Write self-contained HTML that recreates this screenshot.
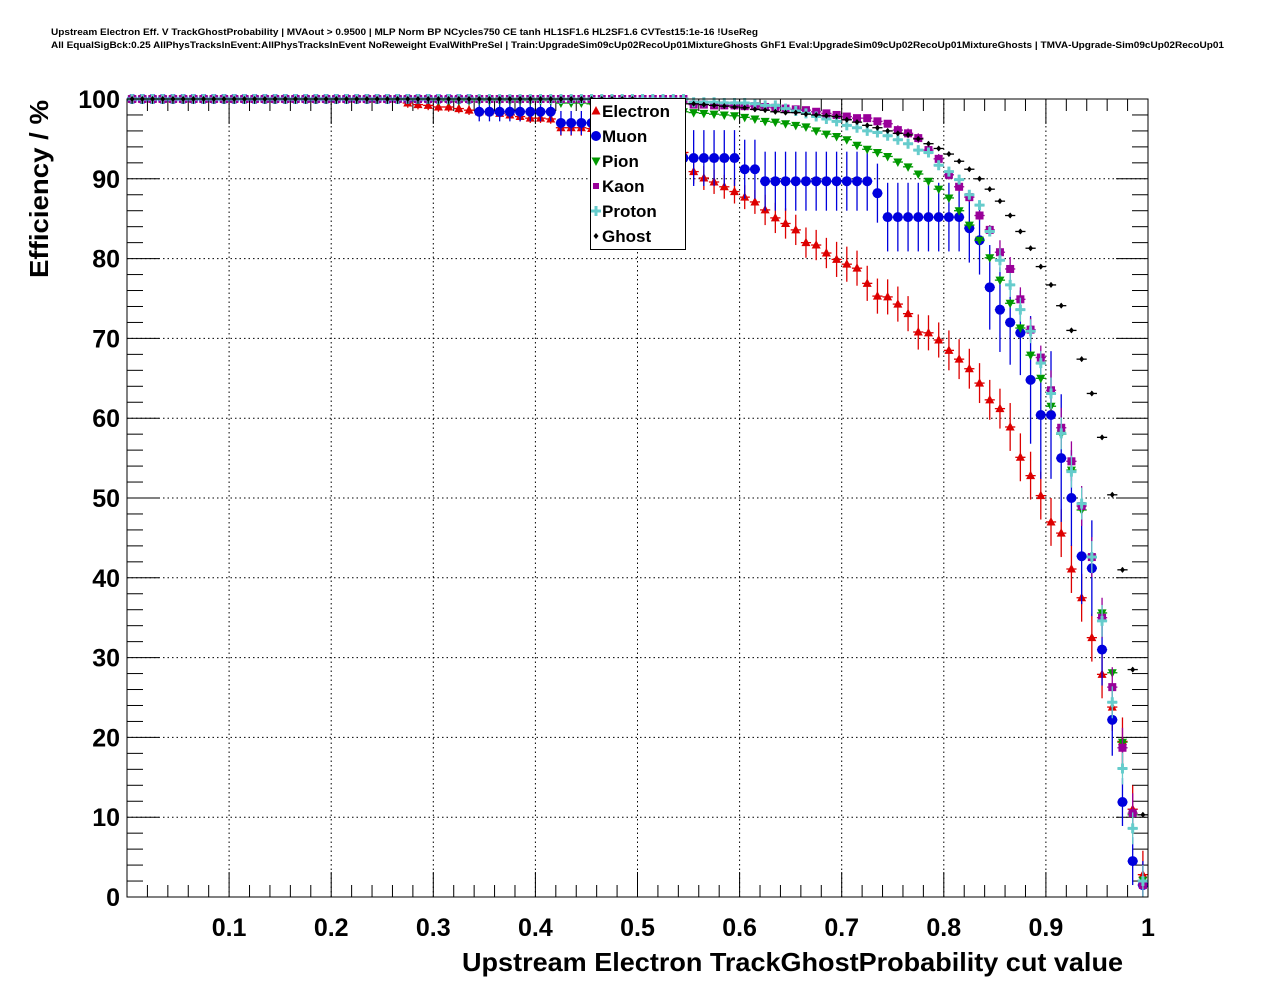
<!DOCTYPE html>
<html><head><meta charset="utf-8">
<style>
html,body{margin:0;padding:0;background:#fff;}
svg{display:block;font-family:"Liberation Sans",sans-serif;}
</style></head>
<body>
<svg id="chart" width="1276" height="996" viewBox="0 0 1276 996" xmlns="http://www.w3.org/2000/svg">
<rect x="0" y="0" width="1276" height="996" fill="#fff"/>
<text x="51" y="35" font-size="9" font-weight="bold" textLength="707" lengthAdjust="spacingAndGlyphs">Upstream Electron Eff. V TrackGhostProbability | MVAout &gt; 0.9500 | MLP Norm BP NCycles750 CE tanh HL1SF1.6 HL2SF1.6 CVTest15:1e-16 !UseReg</text>
<text x="51" y="48" font-size="9" font-weight="bold" textLength="1173" lengthAdjust="spacingAndGlyphs">All EqualSigBck:0.25 AllPhysTracksInEvent:AllPhysTracksInEvent NoReweight EvalWithPreSel | Train:UpgradeSim09cUp02RecoUp01MixtureGhosts GhF1 Eval:UpgradeSim09cUp02RecoUp01MixtureGhosts | TMVA-Upgrade-Sim09cUp02RecoUp01</text>
<g id="grid"></g>
<g id="axes"></g>
<g id="series"></g>
<rect x="127" y="99" width="1021" height="798" fill="none" stroke="#000" stroke-width="1"/>
<text x="1123" y="971" font-size="26" font-weight="bold" text-anchor="end" textLength="661" lengthAdjust="spacingAndGlyphs">Upstream Electron TrackGhostProbability cut value</text>
<text transform="translate(48,100) rotate(-90)" font-size="26" font-weight="bold" text-anchor="end" textLength="178" lengthAdjust="spacingAndGlyphs">Efficiency / %</text>
<g id="legend"></g>
</svg>
<script>
const NS="http://www.w3.org/2000/svg";
const xTicks=[0.1,0.2,0.3,0.4,0.5,0.6,0.7,0.8,0.9,1];
const xTickLabels=["0.1","0.2","0.3","0.4","0.5","0.6","0.7","0.8","0.9","1"];
const yTicks=[0,10,20,30,40,50,60,70,80,90,100];
const yTickLabels=["0","10","20","30","40","50","60","70","80","90","100"];
const seriesNames=["Electron","Muon","Pion","Kaon","Proton","Ghost"];
const F=(v,n)=>Array(n).fill(v);
const electron=[].concat(F(100,27),[99.5,99.3,99.2,99.0,99.0,98.8,98.6,98.4,98.4,98.2,98.0,97.8,97.6,97.6,97.5,
96.4,96.4,96.4,96.3,96.2,96.0,95.8,95.5,95.2,94.8,94.5,94.0,93.3,
90.9,90.1,89.6,89.0,88.4,87.7,87.1,86.1,85.1,84.4,83.6,82.0,81.7,80.7,79.9,79.3,78.8,76.9,75.3,75.2,
74.3,73.1,70.8,70.7,69.8,68.5,67.4,66.2,64.4,62.3,61.2,58.9,55.1,52.8,50.3,47.0,45.6,41.1,37.5,32.5,
27.9,23.8,19.5,11.0,2.8]);
const muon=[].concat(F(100,34),F(98.4,8),F(97.0,6),[97.0,96.0,95.0,94.0,93.5,93.0,92.6],F(92.6,5),F(91.2,2),F(89.7,11),[88.2],F(85.2,8),
[83.8,82.3,76.4,73.6,72.0,70.7,64.8,60.4,60.4,55.0,50.0,42.7,41.2,31.0,22.2,11.9,4.5,1.5]);
const pion=[].concat(F(100,30),F(99.8,12),F(99.5,3),[99.4,99.3,99.2,99.1,99.0,98.9,98.8,98.7,98.6,98.4,
98.3,98.2,98.1,98.0,97.9,97.7,97.5,97.2,97.1,96.9,96.7,96.5,96.0,95.6,95.3,
94.9,94.2,93.7,93.3,92.8,92.1,91.5,90.6,89.7,88.7,87.6,86.0,84.2,82.3,80.1,77.3,74.4,71.3,67.9,65.0,
61.5,58.0,53.5,48.5,42.5,35.6,28.1,19.4,10.3,2.1]);
const kaon=[].concat(F(100,55),[99.3,99.3,99.2,99.2,99.2,99.1,99.1,99.0,98.9,
98.8,98.7,98.6,98.4,98.2,98.0,97.8,97.6,97.6,97.2,96.9,96.1,95.7,95.1,93.6,92.5,90.5,89.0,87.7,85.4,
83.6,80.8,78.7,74.9,71.1,67.6,63.5,58.8,54.6,49.0,42.6,35.0,26.3,18.7,10.5,1.5]);
const proton=[].concat(F(100,55),[99.6,99.6,99.6,99.5,99.5,
99.5,99.4,99.2,99.2,98.8,98.5,98.2,97.8,97.5,97.2,96.7,96.4,96.0,95.8,95.4,94.9,94.4,93.6,93.3,91.7,
90.9,89.9,88.0,86.7,83.4,79.8,76.7,73.6,70.9,66.9,63.1,58.1,53.3,49.3,42.6,34.6,24.4,16.1,8.6,2.0]);
const ghost=[].concat(F(100,50),[99.6,99.6,99.5,99.5,99.4,99.4,99.3,99.2,99.1,99.0,
98.9,98.7,98.6,98.4,98.3,98.3,98.1,98.0,97.9,97.8,97.4,97.1,96.7,96.4,96.0,95.7,95.5,95.0,94.4,93.8,
93.1,92.2,91.2,90.0,88.7,87.2,85.4,83.4,81.3,79.0,76.7,74.1,71.0,67.4,63.1,57.6,50.4,41.0,28.5,10.3]);
// error steps: [startIndex, error]
const electronErr=[[0,0.2],[27,0.6],[42,1.0],[55,1.5],[62,1.9],[69,2.2],[80,2.5],[86,3.0]];
const muonErr=[[0,0.3],[34,1.2],[42,1.5],[48,3],[55,3.5],[60,3.7],[74,4.3],[84,5.3],[88,8],[92,6],[95,4.5],[97,3]];
const pionErr=[[0,0.1],[85,0.5]];
const kaonErr=[[0,0.2],[75,0.6],[85,1.5],[90,2.5]];
const protonErr=[[0,0.2],[75,0.6],[85,1.5],[90,2]];
const ghostErr=[[0,0.6],[40,0.5],[55,0.3]];

const X0=127,X1=1148,Y0=897,Y1=99;
const xs=v=>X0+(X1-X0)*v;
const ys=v=>Y0-(Y0-Y1)*v/100;
function mk(tag,attrs,parent){const e=document.createElementNS(NS,tag);for(const k in attrs)e.setAttribute(k,attrs[k]);parent.appendChild(e);return e;}
const grid=document.getElementById('grid'),axes=document.getElementById('axes'),sg=document.getElementById('series'),lg=document.getElementById('legend');

xTicks.forEach((t,i)=>{
  if(t<1){const l=mk('line',{x1:xs(t),x2:xs(t),y1:Y1,y2:Y0,stroke:'#000','stroke-width':1,'stroke-dasharray':'1.5,3'},grid);
  
  }
  const tx=mk('text',{x:xs(t),y:936,'font-size':25,'font-weight':'bold','text-anchor':'middle'},axes);
  tx.textContent=xTickLabels[i];
  
  
});
for(let k=1;k<50;k++){const v=k*0.02;const major=(k%5===0);
  mk('line',{x1:xs(v),x2:xs(v),y1:Y0,y2:Y0-(major?25:12),stroke:'#000','stroke-width':1},axes);
  mk('line',{x1:xs(v),x2:xs(v),y1:Y1,y2:Y1+(major?25:12),stroke:'#000','stroke-width':1},axes);}
yTicks.forEach((t,i)=>{
  if(t>0&&t<100){const l=mk('line',{x1:X0,x2:X1,y1:ys(t),y2:ys(t),stroke:'#000','stroke-width':1,'stroke-dasharray':'1.5,3'},grid);
  
  }
  const tx=mk('text',{x:120,y:ys(t)+9,'font-size':25,'font-weight':'bold','text-anchor':'end'},axes);
  tx.textContent=yTickLabels[i];
  
  
});
for(let k=1;k<50;k++){const v=k*2;const major=(k%5===0);
  mk('line',{x1:X0,x2:X0+(major?32:16),y1:ys(v),y2:ys(v),stroke:'#000','stroke-width':1},axes);
  mk('line',{x1:X1,x2:X1-(major?32:16),y1:ys(v),y2:ys(v),stroke:'#000','stroke-width':1},axes);}

function errAt(steps,i){let e=steps[0][1];for(const s of steps){if(i>=s[0])e=s[1];}return e;}
function marker(type,x,y,col,parent){
  let m;
  if(type==='tri') m=mk('polygon',{points:`${x},${y-5} ${x-4.5},${y+3.5} ${x+4.5},${y+3.5}`,fill:col},parent);
  else if(type==='circ') m=mk('circle',{cx:x,cy:y,r:5,fill:col},parent);
  else if(type==='tridown') m=mk('polygon',{points:`${x},${y+5} ${x-4.5},${y-3.5} ${x+4.5},${y-3.5}`,fill:col},parent);
  else if(type==='sq') m=mk('rect',{x:x-4,y:y-4,width:8,height:8,fill:col},parent);
  else if(type==='cross') m=mk('path',{d:`M${x-5},${y-1.5}h3.5v-3.5h3v3.5h3.5v3h-3.5v3.5h-3v-3.5h-3.5z`,fill:col},parent);
  else m=mk('path',{d:`M${x},${y-3}L${x+2.5},${y}L${x},${y+3}L${x-2.5},${y}z`,fill:col},parent);
  return m;
}
const defs=[
 {name:'electron',vals:electron,err:electronErr,type:'tri',col:'#dd0000'},
 {name:'muon',vals:muon,err:muonErr,type:'circ',col:'#0000dd'},
 {name:'pion',vals:pion,err:pionErr,type:'tridown',col:'#009900'},
 {name:'kaon',vals:kaon,err:kaonErr,type:'sq',col:'#990099'},
 {name:'proton',vals:proton,err:protonErr,type:'cross',col:'#66cccc'},
 {name:'ghost',vals:ghost,err:ghostErr,type:'dia',col:'#000000'}];
defs.forEach(d=>{
  const g=mk('g',{},sg);
  
  
  d.vals.forEach((v,i)=>{
    const xc=(i+0.5)/100,x=xs(xc),y=ys(v),e=errAt(d.err,i);
    const yt=Math.max(Y1,ys(v+e)),yb=Math.min(Y0,ys(v-e));
    mk('line',{x1:x,x2:x,y1:yt,y2:yb,stroke:d.col,'stroke-width':1.3},g);
    mk('line',{x1:xs(xc-0.005),x2:xs(xc+0.005),y1:y,y2:y,stroke:d.col,'stroke-width':1.3},g);
    const m=marker(d.type,x,y,d.col,g);
    
    
  });
});
// legend
const box=mk('rect',{x:590.5,y:98.5,width:95,height:151,fill:'#fff',stroke:'#000','stroke-width':1},lg);


defs.forEach((d,i)=>{
  const y=111+i*25;
  const m=marker(d.type,596,y,d.col,lg);
  if(d.type==='sq'){m.setAttribute('x',593);m.setAttribute('y',y-3);m.setAttribute('width',6);m.setAttribute('height',6);}
  const t=mk('text',{x:602,y:y+6,'font-size':17,'font-weight':'bold'},lg);
  t.textContent=seriesNames[i];
  
  
});
</script>
</body></html>
